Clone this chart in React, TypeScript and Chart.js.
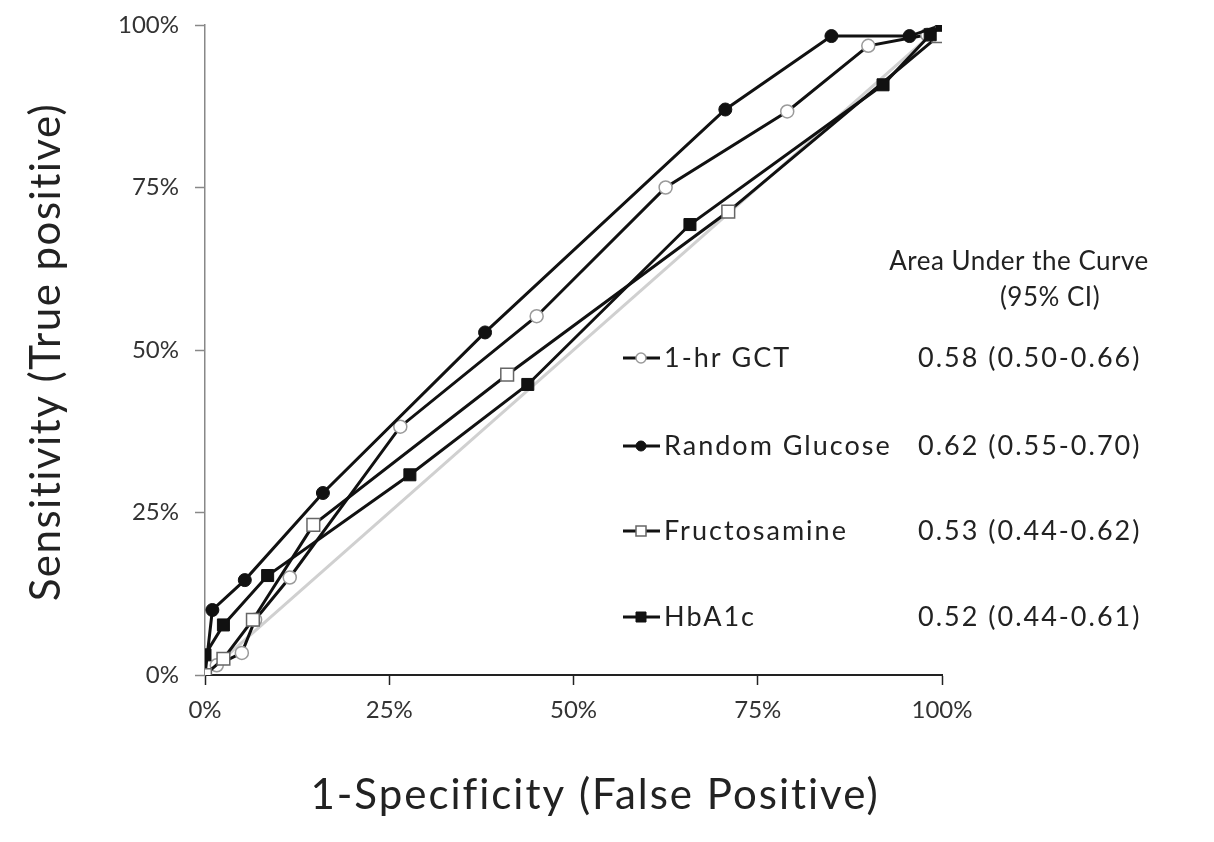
import React, { useEffect, useRef } from 'react';
import { Chart, registerables } from 'chart.js';
Chart.register(...registerables);

const xTickValues = [0, 25, 50, 75, 100];
const yTickValues = [0, 25, 50, 75, 100];

const seriesNames = ['1-hr GCT', 'Random Glucose', 'Fructosamine', 'HbA1c'];
const aucLabels = ['0.58 (0.50-0.66)', '0.62 (0.55-0.70)', '0.53 (0.44-0.62)', '0.52 (0.44-0.61)'];
const aucHeader = ['Area Under the Curve', '(95% CI)'];
const xTitle = '1-Specificity (False Positive)';
const yTitle = 'Sensitivity (True positive)';

const gctX = [0, 1.6, 5, 6.8, 11.5, 26.5, 45, 62.5, 79, 90, 98, 100];
const gctY = [0, 1.5, 3.4, 8.5, 15, 38.2, 55.2, 75, 86.7, 96.8, 98.5, 100];
const rgX = [0, 1, 5.4, 16, 38, 70.6, 85, 95.6, 100];
const rgY = [0, 10, 14.6, 28, 52.7, 87, 98.3, 98.3, 100];
const frX = [0, 2.5, 6.5, 14.7, 41, 71, 99.5, 100];
const frY = [0, 2.5, 8.5, 23.1, 46.2, 71.3, 98.3, 100];
const hbX = [0, 2.5, 8.5, 27.8, 43.8, 65.8, 92, 98.4, 100];
const hbY = [3.1, 7.7, 15.3, 30.8, 44.7, 69.3, 90.8, 98.5, 100];
const refX = [0, 100];
const refY = [0, 100];

const pts = (xs: number[], ys: number[]) => xs.map((x, i) => ({ x, y: ys[i] }));

const FONT = 'Lato, "Open Sans", sans-serif';
const LINE = '#111111';

const markerStyles = [
  { style: 'circle', radius: 6.5, bg: '#ffffff', border: '#9a9a9a', bw: 1.5 },
  { style: 'circle', radius: 6.5, bg: LINE, border: LINE, bw: 1 },
  { style: 'rect', radius: 9, bg: '#ffffff', border: '#666666', bw: 1.5 },
  { style: 'rect', radius: 8.5, bg: LINE, border: LINE, bw: 1 },
];

const textPlugin = {
  id: 'aucLegend',
  afterDatasetsDraw(chart: any) {
    const ctx = chart.ctx as any;
    ctx.save();
    ctx.fillStyle = '#222';
    ctx.textBaseline = 'middle';
    ctx.font = `42px ${FONT}`;
    ctx.textAlign = 'center';
    ctx.letterSpacing = '2px';
    ctx.fillText(xTitle, 595, 795);
    ctx.save();
    ctx.translate(46, 352);
    ctx.rotate(-Math.PI / 2);
    ctx.letterSpacing = '1.5px';
    ctx.fillText(yTitle, 0, 0);
    ctx.restore();
    ctx.letterSpacing = '0.5px';
    ctx.font = `26px ${FONT}`;
    ctx.fillText(aucHeader[0], 1019, 262);
    ctx.fillText(aucHeader[1], 1050, 298);
    const rowsY = [358, 446, 531, 617];
    rowsY.forEach((y, i) => {
      const m = markerStyles[i];
      ctx.strokeStyle = LINE;
      ctx.lineWidth = 3;
      ctx.beginPath();
      ctx.moveTo(623, y);
      ctx.lineTo(660, y);
      ctx.stroke();
      ctx.fillStyle = m.bg;
      ctx.strokeStyle = m.border;
      ctx.lineWidth = m.bw;
      ctx.beginPath();
      if (m.style === 'circle') {
        ctx.arc(641, y, 5, 0, Math.PI * 2);
      } else {
        ctx.rect(636, y - 5, 10, 10);
      }
      ctx.fill();
      ctx.stroke();
      ctx.fillStyle = '#222';
      ctx.textAlign = 'left';
      ctx.font = `27px ${FONT}`;
      ctx.letterSpacing = '2px';
      ctx.fillText(seriesNames[i], 664, y);
      ctx.fillText(aucLabels[i], 918, y);
    });
    ctx.restore();
  },
};

export default function App() {
  const ref = useRef<HTMLCanvasElement>(null);
  useEffect(() => {
    document.body.style.margin = '0';
    const datasets: any[] = [
      {
        label: 'Reference',
        data: pts(refX, refY),
        showLine: true,
        borderColor: '#d0d0d0',
        borderWidth: 3,
        pointRadius: 0,
        order: 10,
      },
    ];
    const all = [pts(gctX, gctY), pts(rgX, rgY), pts(frX, frY), pts(hbX, hbY)];
    all.forEach((d, i) => {
      const m = markerStyles[i];
      datasets.push({
        label: seriesNames[i],
        data: d,
        showLine: true,
        borderColor: LINE,
        borderWidth: 3,
        pointStyle: m.style,
        pointRadius: m.radius,
        pointBackgroundColor: m.bg,
        pointBorderColor: m.border,
        pointBorderWidth: m.bw,
        order: 4 - i,
      });
    });
    const chart = new Chart(ref.current!, {
      type: 'scatter',
      data: { datasets },
      plugins: [textPlugin],
      options: {
        animation: false,
        responsive: false,
        maintainAspectRatio: false,
        layout: { padding: { left: 0, right: 272, top: 25, bottom: 0 } },
        plugins: { legend: { display: false }, tooltip: { enabled: false } },
        scales: {
          x: {
            type: 'linear',
            min: 0,
            max: 100,
            afterFit: (s: any) => { s.height = 167; },
            afterBuildTicks: (s: any) => { s.ticks = xTickValues.map((v) => ({ value: v })); },
            ticks: {
              callback: (v: any) => `${v}%`,
              font: { family: FONT, size: 24 },
              color: '#333',
              padding: 11,
              maxRotation: 0,
            },
            grid: { drawOnChartArea: false, drawTicks: true, tickLength: 10, tickColor: '#222', tickWidth: 1.5 },
            border: { color: '#222', width: 2 },
            title: { display: false },
          },
          y: {
            type: 'linear',
            min: 0,
            max: 100,
            afterFit: (s: any) => { s.width = 205; s.paddingTop = 0; },
            afterBuildTicks: (s: any) => { s.ticks = yTickValues.map((v) => ({ value: v })); },
            ticks: {
              callback: (v: any) => `${v}%`,
              font: { family: FONT, size: 24 },
              color: '#333',
              padding: 16,
            },
            grid: { drawOnChartArea: false, drawTicks: true, tickLength: 10, tickColor: '#888', tickWidth: 1.5 },
            border: { color: '#888', width: 1.5 },
            title: { display: false },
          },
        },
      },
    });
    return () => chart.destroy();
  }, []);
  return <canvas ref={ref} width={1214} height={842} style={{ display: 'block' }} />;
}
